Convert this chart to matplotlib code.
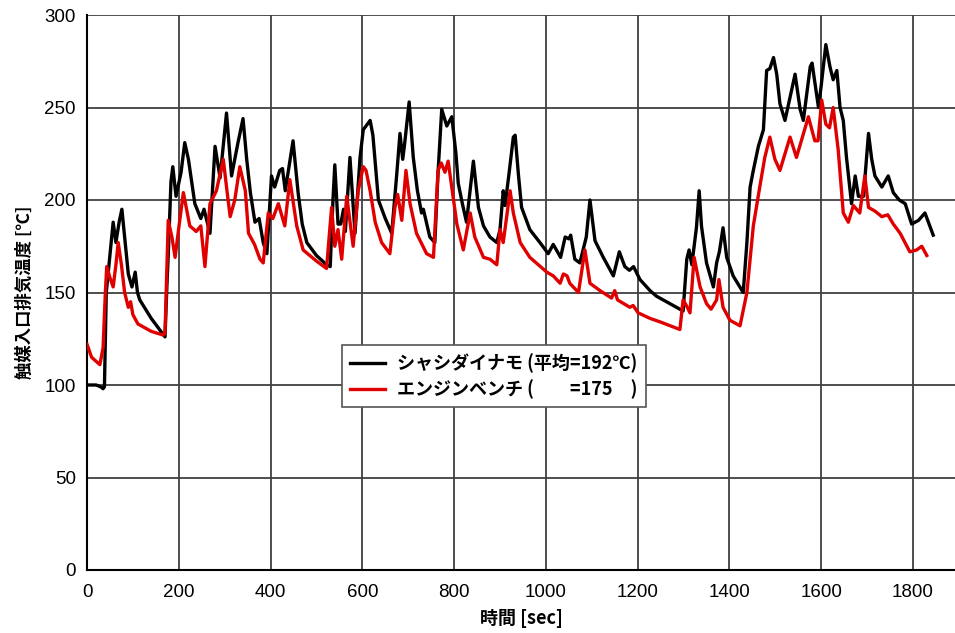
import matplotlib
matplotlib.use("Agg")
import matplotlib.pyplot as plt

plt.rcParams['font.family'] = ['Noto Sans CJK JP', 'DejaVu Sans']

# シャシダイナモ (black)
t_chassis = [0, 20, 30, 35, 38, 42, 48, 52, 57, 63, 70, 76, 82, 90, 98, 105, 110, 115, 140, 170,
             174, 177, 183, 187, 194, 205, 213, 221, 235, 248, 255, 262, 268, 279, 290, 304, 315,
             329, 340, 348, 356, 366, 375, 384, 392, 402, 409, 420, 426, 432, 449, 460, 469, 479,
             500, 522,
             530, 536, 540, 547, 553, 559, 563, 573, 584, 595, 602, 617, 623, 635, 650, 664,
             675, 682, 688, 692, 702, 711, 720, 729, 733, 747, 758, 765, 773, 784, 795, 804, 809,
             818, 827, 842, 853, 864, 878, 893, 900, 907, 911, 920, 929, 933, 940, 947, 965, 987,
             1005, 1016, 1025, 1032, 1042, 1050, 1054, 1063, 1074, 1088, 1096, 1107, 1125, 1147,
             1160, 1172, 1182, 1191, 1205, 1227, 1241, 1299, 1307, 1312, 1318, 1328, 1334, 1339,
             1350, 1365, 1372, 1378, 1386, 1394, 1408, 1430, 1438, 1445, 1452, 1463, 1474, 1481,
             1488, 1496, 1503, 1510, 1521, 1543, 1554, 1561, 1576, 1580, 1587, 1594, 1600, 1610,
             1619, 1626, 1634, 1641, 1648, 1655, 1666, 1674, 1681, 1692, 1703, 1710, 1717, 1732,
             1746, 1757, 1770, 1783, 1797, 1812, 1826, 1844]
y_chassis = [100, 100, 99, 98, 99, 150, 165, 175, 188, 177, 188, 195, 180, 160, 153, 161, 150, 146, 136, 126,
             153, 170, 210, 218, 202, 215, 231, 222, 198, 190, 195, 188, 182, 229, 212, 247, 213,
             231, 244, 222, 204, 188, 190, 177, 171, 213, 207, 216, 217, 205, 232, 204, 187, 177,
             170, 165,
             164, 200, 219, 187, 187, 195, 183, 223, 182, 223, 238, 243, 235, 200, 190, 182,
             214, 236, 222, 230, 253, 223, 205, 193, 195, 180, 177, 215, 249, 240, 245, 225, 209,
             198, 188, 221, 196, 186, 180, 177, 184, 205, 197, 215, 234, 235, 214, 196, 184, 177,
             171, 176, 172, 169, 180, 179, 181, 168, 166, 180, 200, 178, 169, 159,
             172, 164, 162, 164, 157, 151, 148, 140, 168, 173, 165, 185, 205, 186,
             166, 153, 166, 172, 185, 169, 159, 150, 177, 207, 216, 229, 238, 270,
             271, 277, 268, 252, 243, 268, 249, 243, 272, 274, 262, 250, 262, 284,
             272, 265, 270, 250, 243, 223, 198, 213, 202, 202, 236, 222, 213, 207,
             213, 204, 200, 198, 187, 189, 193, 181]

# エンジンベンチ (red)
t_bench = [0, 10, 28, 35, 40, 43, 50, 57, 63, 68, 75, 82, 90, 95, 100, 111, 140, 166,
           170, 177, 185, 192, 200, 210, 224, 238, 248, 257, 268, 282, 297, 305, 312, 322, 333,
           345, 352, 365, 377, 384, 395, 405, 417, 431, 442, 457, 471, 500, 522,
           533, 540, 547, 555, 566, 580, 591, 602, 608, 617, 628, 642, 660,
           671, 677, 686, 695, 704, 718, 740, 755, 765, 772, 780, 787, 796, 806, 820, 835, 845,
           864, 878, 893, 900, 907, 922, 929, 944, 965, 1002, 1016, 1031, 1038, 1046, 1052,
           1071, 1085, 1096, 1118, 1143, 1150, 1156, 1183, 1190, 1201, 1227, 1250, 1292,
           1299, 1306, 1314, 1323, 1336, 1350, 1360, 1372, 1377, 1386, 1401, 1423, 1438,
           1452, 1466, 1477, 1488, 1499, 1510, 1532, 1546, 1572, 1586, 1593, 1601, 1610, 1618,
           1626, 1637, 1648, 1659, 1670, 1684, 1695, 1703, 1717, 1732, 1745, 1757, 1772, 1793,
           1808, 1819, 1830]
y_bench = [122, 115, 111, 120, 150, 164, 158, 153, 165, 177, 165, 150, 142, 145, 138, 133, 129, 127,
           128, 189, 180, 169, 185, 204, 186, 183, 186, 164, 198, 205, 222, 205, 191, 200, 218,
           205, 182, 176, 168, 166, 193, 190, 198, 186, 211, 186, 173, 167, 163,
           196, 175, 184, 168, 202, 175, 205, 218, 216, 205, 188, 177, 171,
           196, 203, 189, 216, 198, 182, 171, 169, 216, 220, 215, 221, 205, 187, 173, 193, 180,
           169, 168, 165, 184, 177, 205, 193, 177, 169, 161, 159, 155, 160, 159, 155,
           150, 173, 155, 151, 147, 151, 146, 142, 143, 139, 136, 134, 130,
           146, 143, 139, 169, 153, 144, 141, 146, 157, 142, 135, 132, 150,
           186, 207, 223, 234, 222, 216, 234, 223, 245, 232, 232, 254, 241, 239,
           250, 227, 193, 188, 197, 193, 213, 196, 194, 191, 192, 187, 182, 172,
           173, 175, 170]

label_chassis = "シャシダイナモ (平均=192℃)"
label_bench = "エンジンベンチ (　　=175　)"
x_ticks = [0, 200, 400, 600, 800, 1000, 1200, 1400, 1600, 1800]
y_ticks = [0, 50, 100, 150, 200, 250, 300]

fig = plt.figure(figsize=(9.55, 6.33), dpi=100)
ax = fig.add_axes([87/955, 63/633, 868/955, 555/633])

ax.plot(t_chassis, y_chassis, color='black', lw=2.4, label=label_chassis, zorder=3)
ax.plot(t_bench, y_bench, color='#e00000', lw=2.4, label=label_bench, zorder=3)

ax.set_xlim(0, 868/0.4589)
ax.set_ylim(0, 300)
ax.set_xticks(x_ticks)
ax.set_yticks(y_ticks)
ax.grid(True, color='#404040', lw=1.3)
ax.set_axisbelow(True)
for s in ['top', 'right']:
    ax.spines[s].set_visible(False)
for s in ['left', 'bottom']:
    ax.spines[s].set_color('black')
    ax.spines[s].set_linewidth(1.5)
ax.tick_params(length=0, labelsize=13.5)
ax.tick_params(axis='x', pad=10)
ax.tick_params(axis='y', pad=8)
for lab in ax.get_xticklabels() + ax.get_yticklabels():
    lab.set_fontfamily(['Liberation Sans', 'DejaVu Sans'])

ax.set_xlabel("時間 [sec]", fontsize=13, fontweight='bold', labelpad=6)
ax.set_ylabel("触媒入口排気温度 [℃]", fontsize=12.5, fontweight='bold', labelpad=8)

leg = ax.legend(loc='upper left', bbox_to_anchor=(0.294, 0.405), frameon=True,
                fancybox=False, edgecolor='#555555', framealpha=1, borderaxespad=0,
                prop={'family': ['Noto Sans CJK JP', 'DejaVu Sans'], 'weight': 'bold', 'size': 13},
                handlelength=1.9, borderpad=0.45, labelspacing=0.35, handletextpad=0.7)
leg.get_frame().set_linewidth(1.2)

fig.savefig("out.png", dpi=100)
